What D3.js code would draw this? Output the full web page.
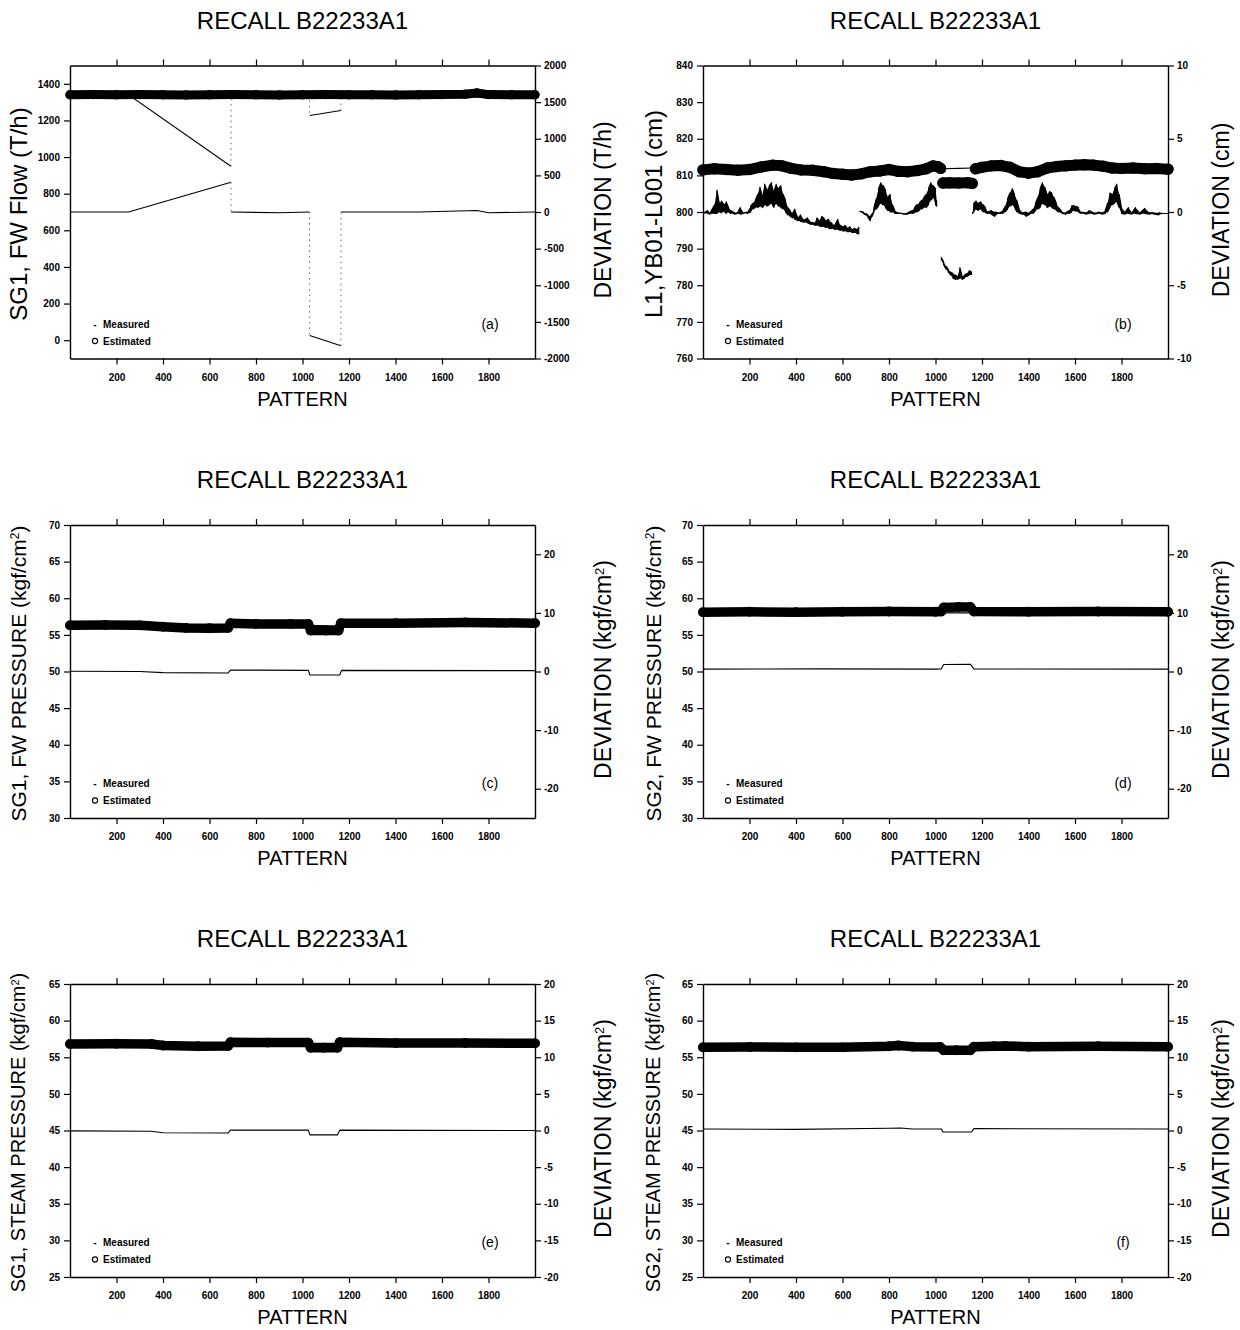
<!DOCTYPE html>
<html>
<head>
<meta charset="utf-8">
<script src="https://cdn.jsdelivr.net/npm/d3@7"></script>
<style>
  body { margin: 0; background: #fff; }
  text { font-family: "Liberation Sans", Arial, sans-serif; fill: #000; }
  .tick text { font-weight: bold; font-size: 10px; }
  .domain { stroke: #000; stroke-width: 1.4; }
  .tick line { stroke: #000; stroke-width: 1.2; }
</style>
</head>
<body>
<svg id="chart" width="1240" height="1330"></svg>
<script>
// ---- data ----
const PATTERN_TICKS = [200, 400, 600, 800, 1000, 1200, 1400, 1600, 1800];

const FLOW_TICKS = [0, 200, 400, 600, 800, 1000, 1200, 1400];
const FLOW_DEV_TICKS = [-2000, -1500, -1000, -500, 0, 500, 1000, 1500, 2000];
const LEVEL_TICKS = [760, 770, 780, 790, 800, 810, 820, 830, 840];
const LEVEL_DEV_TICKS = [-10, -5, 0, 5, 10];
const FWP_TICKS = [30, 35, 40, 45, 50, 55, 60, 65, 70];
const FWP_DEV_TICKS = [-20, -10, 0, 10, 20];
const STP_TICKS = [25, 30, 35, 40, 45, 50, 55, 60, 65];
const STP_DEV_TICKS = [-20, -15, -10, -5, 0, 5, 10, 15, 20];

// (a) SG1 FW flow, T/h
const FLOW_EST = [[0,1340],[100,1341],[200,1340],[300,1341],[400,1340],[500,1339],[600,1340],[700,1341],[800,1340],
  [900,1339],[1000,1340],[1100,1341],[1200,1340],[1300,1340],[1400,1339],[1500,1340],[1600,1341],[1700,1343],
  [1750,1350],[1800,1341],[1900,1340],[2000,1340]];
const FLOW_MEAS = [[0,1340],[252,1340],[692,950],[693,1340],[1030,1340],[1031,1227],[1165,1254],[1166,1340],[2000,1340]];
const FLOW_DEV = [[0,0],[252,0],[692,405],[693,0],[900,-10],[1030,0],[1031,-1687],[1165,-1825],[1166,0],
  [1500,0],[1750,20],[1800,-10],[2000,0]];

// (b) L1 level, cm  (deviation given as [pattern, low, high] per bin)
const LEVEL_EST = [[0,811.5],[50,811.8],[100,811.6],[150,811.4],[200,811.6],[250,812.3],[300,812.8],[340,812.6],
  [380,811.9],[420,811.5],[470,811.4],[520,811.0],[560,810.5],[600,810.3],[640,810.1],[680,810.4],[720,811.0],
  [760,811.2],[800,811.6],[840,811.1],[880,811.0],[920,811.3],[960,811.8],[990,812.6],[1010,812.4],[1022,811.9],
  null,
  [1032,807.9],[1060,808.0],[1100,807.9],[1140,808.0],[1158,807.8],
  null,
  [1172,811.8],[1200,812.2],[1240,812.6],[1280,812.7],[1320,812.2],[1360,811.0],[1400,810.6],[1440,811.0],
  [1480,812.0],[1520,812.4],[1560,812.6],[1600,812.8],[1640,812.9],[1680,812.8],[1720,812.5],[1760,812.0],
  [1800,811.9],[1850,812.0],[1900,811.8],[1950,811.9],[2000,811.7]];
const LEVEL_MEAS = [[0,811.6],[200,811.7],[400,811.9],[600,811.4],[800,811.3],[1000,812.0],[1030,811.8],
  [1100,811.9],[1160,812.0],[1300,812.2],[1500,811.7],[1700,812.3],[2000,811.9]];
const LEVEL_DEV = [
  [0,-0.1,-0.1],[20,-0.1,0.1],[30,-0.15,-0.05],[50,-0.1,0.5],[60,-0.1,1.5],[70,0.0,0.6],[80,-0.05,0.75],
  [90,0.05,0.5],[100,-0.1,0.7],[110,0.0,0.3],[120,-0.1,0.1],[135,-0.15,-0.05],[150,-0.1,0.0],[160,-0.15,0.3],
  [175,-0.1,-0.05],[190,-0.1,0.0],[205,0.0,0.4],[215,0.2,0.6],[225,0.3,0.8],[235,0.3,1.2],[245,0.4,1.7],
  [255,0.3,1.1],[265,0.5,1.9],[275,0.4,1.5],[285,0.5,1.8],[295,0.6,2.0],[305,0.3,1.4],[315,0.6,1.9],
  [325,0.4,1.6],[335,0.3,1.8],[345,0.2,1.2],[355,0.0,0.8],[365,-0.2,0.3],[375,-0.3,0.1],[385,-0.4,-0.1],
  [395,-0.5,0.2],[410,-0.6,-0.4],[420,-0.65,-0.2],[435,-0.7,-0.55],[450,-0.75,-0.4],[465,-0.85,-0.7],
  [480,-0.9,-0.75],[490,-0.9,-0.4],[500,-0.95,-0.6],[510,-1.0,-0.3],[520,-1.0,-0.4],[530,-1.05,-0.6],
  [540,-1.1,-0.5],[550,-1.15,-0.7],[560,-1.15,-0.9],[570,-1.2,-0.8],[580,-1.2,-0.5],[590,-1.25,-0.9],
  [600,-1.3,-1.0],[610,-1.3,-0.9],[620,-1.35,-1.1],[630,-1.35,-1.0],[640,-1.4,-1.2],[650,-1.4,-1.1],
  [660,-1.45,-1.2],[670,-1.5,-1.0],
  null,
  [675,0.0,0.05],[690,-0.1,0.0],[700,-0.2,-0.1],[710,-0.4,-0.2],[720,-0.6,-0.3],[728,-0.3,-0.1],[735,0.0,0.3],
  [745,0.2,0.9],[755,0.4,1.6],[765,0.6,2.0],[775,0.5,1.8],[785,0.3,1.5],[795,0.1,1.0],[805,0.0,1.2],
  [815,0.0,0.5],[825,-0.1,0.1],[840,-0.1,-0.05],[860,-0.15,-0.1],[880,-0.15,-0.05],[900,-0.1,0.1],
  [910,-0.05,0.3],[920,0.0,0.5],[930,0.1,0.6],[940,0.2,0.8],[950,0.3,1.0],[960,0.3,1.2],[970,0.5,1.6],
  [980,0.8,2.0],[990,1.0,1.8],[1000,0.5,1.6],[1005,0.4,0.8],
  null,
  [1025,-3.3,-3.1],[1035,-3.6,-3.4],[1045,-3.9,-3.7],[1055,-4.1,-3.9],[1065,-4.3,-4.1],[1075,-4.5,-4.2],
  [1085,-4.6,-4.3],[1095,-4.6,-4.4],[1105,-4.5,-3.8],[1115,-4.6,-4.4],[1125,-4.5,-4.3],[1135,-4.4,-4.2],
  [1145,-4.3,-4.0],[1155,-4.3,-4.1],
  null,
  [1160,-0.1,0.0],[1165,0.0,0.6],[1175,0.2,0.75],[1185,0.1,0.6],[1195,0.2,0.7],[1205,0.0,0.5],[1215,-0.05,0.3],
  [1225,-0.1,0.0],[1240,-0.15,0.1],[1255,-0.3,0.0],[1270,-0.1,-0.05],[1290,-0.1,0.1],[1300,0.0,0.4],
  [1310,0.2,0.9],[1320,0.4,1.3],[1330,0.5,1.6],[1340,0.3,1.2],[1350,0.0,0.8],[1360,-0.1,0.2],[1375,-0.15,-0.05],
  [1390,-0.3,0.0],[1405,-0.15,-0.05],[1420,-0.1,0.2],[1430,0.1,0.6],[1440,0.2,1.0],[1450,0.3,1.6],
  [1460,0.6,2.0],[1470,0.5,1.7],[1480,0.3,1.2],[1490,0.4,1.4],[1500,0.3,1.3],[1510,0.2,1.0],[1520,0.1,0.6],
  [1530,0.0,0.3],[1545,-0.1,0.0],[1560,-0.15,-0.05],[1575,-0.1,0.1],[1585,0.0,0.4],[1595,0.1,0.45],
  [1605,0.05,0.4],[1615,0.0,0.3],[1625,-0.1,0.0],[1645,-0.15,-0.05],[1660,-0.1,0.1],[1680,-0.15,-0.05],
  [1700,-0.1,0.0],[1715,-0.15,-0.05],[1730,-0.1,0.1],[1740,0.0,0.6],[1750,0.3,1.3],[1760,0.5,1.2],
  [1770,0.6,1.6],[1780,0.7,1.9],[1790,0.3,1.2],[1800,-0.1,0.3],[1815,-0.15,0.0],[1830,-0.1,0.3],
  [1845,-0.15,-0.05],[1860,-0.1,0.3],[1880,-0.15,-0.05],[1900,-0.1,0.25],[1920,-0.15,-0.05],
  [1940,-0.15,-0.05],[1960,-0.2,-0.05],[1980,-0.1,-0.1],[2000,-0.1,-0.1]];

// (c) SG1 FW pressure, kgf/cm2
const FWP1_EST = [[0,56.3],[150,56.35],[300,56.3],[400,56.1],[500,55.95],[600,55.9],[680,55.95],[690,56.6],
  [800,56.5],[950,56.5],[1025,56.5],[1035,55.6],[1100,55.6],[1155,55.6],[1165,56.6],[1400,56.6],[1700,56.7],[2000,56.6]];
const FWP1_MEAS = [[0,56.3],[400,56.3],[680,56.2],[690,56.4],[1025,56.3],[1160,56.2],[1170,56.4],[2000,56.45]];
const FWP1_DEV = [[0,0.05],[300,0.0],[400,-0.2],[680,-0.25],[690,0.25],[1025,0.2],[1032,-0.6],[1160,-0.6],
  [1168,0.2],[2000,0.15]];

// (d) SG2 FW pressure, kgf/cm2
const FWP2_EST = [[0,58.1],[200,58.15],[400,58.1],[600,58.15],[800,58.2],[1000,58.15],[1025,58.2],[1035,58.75],
  [1100,58.8],[1150,58.8],[1165,58.2],[1400,58.15],[1700,58.2],[2000,58.15]];
const FWP2_MEAS = [[0,58.1],[1000,58.1],[1030,58.0],[1160,58.0],[1170,58.1],[2000,58.1]];
const FWP2_DEV = [[0,0.4],[500,0.45],[1000,0.4],[1025,0.45],[1035,1.2],[1150,1.25],[1165,0.45],[2000,0.4]];

// (e) SG1 steam pressure, kgf/cm2
const STP1_EST = [[0,56.8],[200,56.85],[350,56.8],[400,56.6],[550,56.5],[680,56.55],[690,57.05],[850,57.0],
  [1025,57.0],[1035,56.3],[1090,56.3],[1150,56.3],[1160,57.05],[1400,56.95],[1700,56.95],[2000,56.9]];
const STP1_MEAS = [[0,56.8],[680,56.8],[1030,56.9],[1160,56.9],[2000,56.9]];
const STP1_DEV = [[0,-0.05],[350,-0.1],[400,-0.3],[680,-0.35],[690,0.05],[1025,0.05],[1032,-0.6],[1150,-0.6],
  [1160,0.05],[2000,0.0]];

// (f) SG2 steam pressure, kgf/cm2
const STP2_EST = [[0,56.35],[200,56.4],[400,56.35],[600,56.35],[800,56.5],[840,56.6],[900,56.45],[1020,56.4],
  [1035,55.95],[1090,55.95],[1150,55.95],[1165,56.45],[1250,56.5],[1300,56.55],[1400,56.45],[1700,56.5],[2000,56.45]];
const STP2_MEAS = [[0,56.3],[1000,56.3],[1160,56.3],[2000,56.3]];
const STP2_DEV = [[0,0.2],[400,0.15],[800,0.3],[850,0.35],[900,0.2],[1025,0.2],[1032,-0.2],[1155,-0.2],
  [1165,0.25],[2000,0.2]];

const TITLE = "RECALL B22233A1";

// ---- layout ----
const COL_X = [70, 703],
      PLOT_W = 465,
      ROW_Y = [65.5, 525, 984],
      PLOT_H = 293,
      LEFT_LABEL_DX = [-52, -50],   // label centres
      RIGHT_LABEL_DX = [68, 53];

const panels = [
  {tag: "(a)", col: 0, row: 0, left: [-100, 1500], right: [-2000, 2000], leftTicks: FLOW_TICKS, rightTicks: FLOW_DEV_TICKS,
   est: FLOW_EST, meas: FLOW_MEAS, dev: FLOW_DEV, leftLabel: ["SG1, FW Flow (T/h)"], rightLabel: ["DEVIATION (T/h)"],
   leftSize: 24, rightSize: 23, band: 9},
  {tag: "(b)", col: 1, row: 0, left: [760, 840], right: [-10, 10], leftTicks: LEVEL_TICKS, rightTicks: LEVEL_DEV_TICKS,
   est: LEVEL_EST, meas: LEVEL_MEAS, dev: LEVEL_DEV, leftLabel: ["L1,YB01-L001 (cm)"], rightLabel: ["DEVIATION (cm)"],
   leftSize: 24, rightSize: 23, band: 11},
  {tag: "(c)", col: 0, row: 1, left: [30, 70], right: [-25, 25], leftTicks: FWP_TICKS, rightTicks: FWP_DEV_TICKS,
   est: FWP1_EST, meas: FWP1_MEAS, dev: FWP1_DEV, leftLabel: ["SG1, FW PRESSURE (kgf/cm", "2", ")"], rightLabel: ["DEVIATION (kgf/cm", "2", ")"],
   leftSize: 21, rightSize: 23, band: 9.5},
  {tag: "(d)", col: 1, row: 1, left: [30, 70], right: [-25, 25], leftTicks: FWP_TICKS, rightTicks: FWP_DEV_TICKS,
   est: FWP2_EST, meas: FWP2_MEAS, dev: FWP2_DEV, leftLabel: ["SG2, FW PRESSURE (kgf/cm", "2", ")"], rightLabel: ["DEVIATION (kgf/cm", "2", ")"],
   leftSize: 21, rightSize: 23, band: 9.5},
  {tag: "(e)", col: 0, row: 2, left: [25, 65], right: [-20, 20], leftTicks: STP_TICKS, rightTicks: STP_DEV_TICKS,
   est: STP1_EST, meas: STP1_MEAS, dev: STP1_DEV, leftLabel: ["SG1, STEAM PRESSURE (kgf/cm", "2", ")"], rightLabel: ["DEVIATION (kgf/cm", "2", ")"],
   leftSize: 20, rightSize: 23, band: 9.5},
  {tag: "(f)", col: 1, row: 2, left: [25, 65], right: [-20, 20], leftTicks: STP_TICKS, rightTicks: STP_DEV_TICKS,
   est: STP2_EST, meas: STP2_MEAS, dev: STP2_DEV, leftLabel: ["SG2, STEAM PRESSURE (kgf/cm", "2", ")"], rightLabel: ["DEVIATION (kgf/cm", "2", ")"],
   leftSize: 20, rightSize: 23, band: 9.5}
];

const svg = d3.select("#chart");

// break a series where it jumps between consecutive patterns; those jumps get drawn dotted
function splitJumps(pts) {
  let solid = [], jumps = [];
  pts.forEach((p, i) => {
    let prev = pts[i - 1];
    if (p && prev && p[0] - prev[0] > 0 && p[0] - prev[0] <= 2) {
      solid.push(null);
      jumps.push([prev, p]);
    }
    solid.push(p);
  });
  return {solid, jumps};
}

// [x, lo, hi] bins -> zig-zag polyline so the noise reads as dense hatching
function zigzag(bins) {
  let out = [];
  bins.forEach((b, i) => {
    if (!b) { out.push(null); return; }
    if (b.length === 2) { out.push(b); return; }
    let [x, lo, hi] = b;
    if (i % 2) out.push([x, hi], [x, lo]);
    else out.push([x, lo], [x, hi]);
  });
  return out;
}

function rotatedLabel(g, x, y, parts, size) {
  let t = g.append("text")
    .attr("transform", "translate(" + x + "," + y + ") rotate(-90)")
    .attr("text-anchor", "middle")
    .attr("dy", "0.36em")
    .style("font-size", size + "px");
  t.append("tspan").text(parts[0]);
  if (parts.length > 1) {
    t.append("tspan").attr("baseline-shift", "super").style("font-size", Math.round(size * 0.55) + "px").text(parts[1]);
    t.append("tspan").text(parts[2]);
  }
}

panels.forEach(p => {
  let x0 = COL_X[p.col], y0 = ROW_Y[p.row],
      x1 = x0 + PLOT_W, y1 = y0 + PLOT_H;

  let x = d3.scaleLinear().domain([0, 2000]).range([x0, x1]),
      yl = d3.scaleLinear().domain(p.left).range([y1, y0]),
      yr = d3.scaleLinear().domain(p.right).range([y1, y0]);

  let g = svg.append("g");

  // title
  g.append("text")
    .attr("x", (x0 + x1) / 2).attr("y", y0 - 37)
    .attr("text-anchor", "middle")
    .style("font-size", "24px")
    .text(TITLE);

  // axes
  g.append("g").attr("transform", "translate(0," + y1 + ")")
    .call(d3.axisBottom(x).tickValues(PATTERN_TICKS).tickSize(6).tickSizeOuter(0).tickPadding(9).tickFormat(d => String(d)));
  g.append("g").attr("transform", "translate(0," + y0 + ")")
    .call(d3.axisTop(x).tickValues(PATTERN_TICKS).tickSize(6).tickSizeOuter(0).tickFormat(""));
  g.append("g").attr("transform", "translate(" + x0 + ",0)")
    .call(d3.axisLeft(yl).tickValues(p.leftTicks).tickSize(6).tickSizeOuter(0).tickPadding(4).tickFormat(d => String(d)));
  g.append("g").attr("transform", "translate(" + x1 + ",0)")
    .call(d3.axisRight(yr).tickValues(p.rightTicks).tickSize(6).tickSizeOuter(0).tickPadding(3).tickFormat(d => String(d)));

  // axis titles
  g.append("text")
    .attr("x", (x0 + x1) / 2).attr("y", y1 + 47)
    .attr("text-anchor", "middle")
    .style("font-size", "20px")
    .text("PATTERN");
  rotatedLabel(g, x0 + LEFT_LABEL_DX[p.col], (y0 + y1) / 2 + 2, p.leftLabel, p.leftSize);
  rotatedLabel(g, x1 + RIGHT_LABEL_DX[p.col], (y0 + y1) / 2 - 2, p.rightLabel, p.rightSize);

  let lineL = d3.line().defined(d => d !== null).x(d => x(d[0])).y(d => yl(d[1])),
      lineR = d3.line().defined(d => d !== null).x(d => x(d[0])).y(d => yr(d[1]));

  // noisy deviation bins: fill the low/high envelope first
  let binned = p.dev.filter(d => d && d.length === 3).length > 0;
  if (binned) {
    let band = d3.area().defined(d => d !== null)
      .x(d => x(d[0])).y0(d => yr(d[1])).y1(d => yr(d.length === 3 ? d[2] : d[1]));
    g.append("path").attr("d", band(p.dev)).attr("fill", "#000").attr("stroke", "none");
  }

  // measured (left scale) and deviation (right scale)
  let meas = splitJumps(p.meas),
      dev = splitJumps(zigzag(p.dev));

  g.append("path").attr("d", lineL(meas.solid))
    .attr("fill", "none").attr("stroke", "#000").attr("stroke-width", 1.1);
  g.append("path").attr("d", lineR(dev.solid))
    .attr("fill", "none").attr("stroke", "#000").attr("stroke-width", 1.1)
    .attr("stroke-linejoin", "round");

  g.selectAll(null).data(meas.jumps).enter().append("line")
    .attr("x1", d => x(d[0][0])).attr("y1", d => yl(d[0][1]))
    .attr("x2", d => x(d[1][0])).attr("y2", d => yl(d[1][1]))
    .attr("stroke", "#555").attr("stroke-width", 0.9).attr("stroke-dasharray", "1.5,4");
  g.selectAll(null).data(dev.jumps).enter().append("line")
    .attr("x1", d => x(d[0][0])).attr("y1", d => yr(d[0][1]))
    .attr("x2", d => x(d[1][0])).attr("y2", d => yr(d[1][1]))
    .attr("stroke", "#555").attr("stroke-width", 0.9).attr("stroke-dasharray", "1.5,4");

  // estimated: dense circles rendered as a heavy band with circle markers
  g.append("path").attr("d", lineL(p.est))
    .attr("fill", "none").attr("stroke", "#000")
    .attr("stroke-width", p.band).attr("stroke-linejoin", "round").attr("stroke-linecap", "round");
  g.selectAll(null).data(p.est.filter(d => d)).enter().append("circle")
    .attr("cx", d => x(d[0])).attr("cy", d => yl(d[1]))
    .attr("r", p.band / 2 - 0.4)
    .attr("fill", "none").attr("stroke", "#000").attr("stroke-width", 1.2);

  // legend
  g.append("text").attr("x", x0 + 25).attr("y", y0 + 262)
    .attr("text-anchor", "middle").style("font-size", "10px").style("font-weight", "bold").text("-");
  g.append("circle").attr("cx", x0 + 25).attr("cy", y0 + 275.5).attr("r", 2.6)
    .attr("fill", "none").attr("stroke", "#000").attr("stroke-width", 1.1);
  g.append("text").attr("x", x0 + 33).attr("y", y0 + 262)
    .style("font-size", "10px").style("font-weight", "bold").text("Measured");
  g.append("text").attr("x", x0 + 33).attr("y", y0 + 279)
    .style("font-size", "10px").style("font-weight", "bold").text("Estimated");

  // panel tag
  g.append("text").attr("x", x1 - 45).attr("y", y0 + 263)
    .attr("text-anchor", "middle").style("font-size", "14px").text(p.tag);
});
</script>
</body>
</html>
